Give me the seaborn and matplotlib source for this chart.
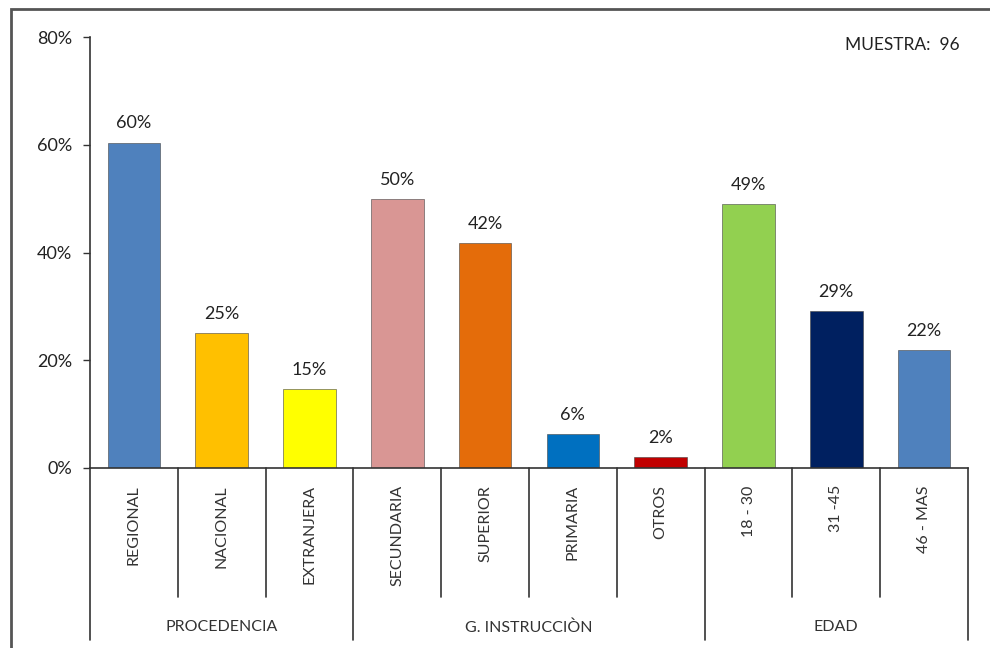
import matplotlib
matplotlib.use("Agg")
import matplotlib.pyplot as plt
from matplotlib.ticker import PercentFormatter
from matplotlib.patches import Rectangle
import pandas as pd
import seaborn as sns

# datos (muestra de 96)
categorias = ["REGIONAL", "NACIONAL", "EXTRANJERA",
              "SECUNDARIA", "SUPERIOR", "PRIMARIA", "OTROS",
              "18 - 30", "31 -45", "46 - MAS"]
porcentajes = [60.4, 25.0, 14.6, 50.0, 41.7, 6.3, 2.1, 49.0, 29.2, 21.9]
grupos = ["PROCEDENCIA", "G. INSTRUCCIÒN", "EDAD"]
tam_grupos = [3, 4, 3]
colores = ["#4F81BD", "#FFC000", "#FFFF00", "#D99694", "#E46C0A",
           "#0070C0", "#C00000", "#92D050", "#002060", "#4F81BD"]
y_ticks = [0, 20, 40, 60, 80]
muestra = 96

sns.set_theme(style="white")
plt.rcParams['font.family'] = ['Lato', 'DejaVu Sans']

df = pd.DataFrame({"cat": categorias, "pct": porcentajes})

fig = plt.figure(figsize=(9.9, 6.48), dpi=100)
ax = fig.add_axes([90 / 990, 1 - 468 / 648, 878 / 990, 431 / 648])

sns.barplot(data=df, x="cat", y="pct", hue="cat", palette=colores,
            order=categorias, hue_order=categorias, width=0.6, saturation=1,
            legend=False, ax=ax, edgecolor="#444444", linewidth=0.4)

for cont, v in zip(ax.containers, porcentajes):
    ax.bar_label(cont, labels=[f"{v:.0f}%"], padding=8, fontsize=13, color="#222222")

ax.set_xlim(-0.5, len(categorias) - 0.5)
ax.set_ylim(0, 80)
ax.set_yticks(y_ticks)
ax.yaxis.set_major_formatter(PercentFormatter(decimals=0))
ax.tick_params(axis="y", left=True, length=5, width=1, color="#333333",
               labelsize=13, labelcolor="#222222", pad=8)
ax.set_xticks([])
ax.set_xlabel("")
ax.set_ylabel("")
for s in ["top", "right"]:
    ax.spines[s].set_visible(False)
for s in ["left", "bottom"]:
    ax.spines[s].set_color("#333333")
    ax.spines[s].set_linewidth(1.2)

tr = ax.get_xaxis_transform()
# etiquetas de categoria verticales
for i, c in enumerate(categorias):
    ax.text(i, -0.04, c, transform=tr, rotation=90, ha="center", va="top",
            fontsize=11.5, color="#333333")

# separadores de categorias y grupos
limites = [-0.5]
for n in tam_grupos:
    limites.append(limites[-1] + n)
for i in range(len(categorias) + 1):
    xpos = i - 0.5
    y_fin = -0.40 if xpos in limites else -0.30
    ax.plot([xpos, xpos], [0, y_fin], transform=tr, color="#333333",
            lw=1.2, clip_on=False)

# etiquetas de grupo
for g, a, b in zip(grupos, limites[:-1], limites[1:]):
    ax.text((a + b) / 2, -0.37, g, transform=tr, ha="center", va="center",
            fontsize=11.5, color="#333333")

ax.text(0.991, 0.981, f"MUESTRA:  {muestra}", transform=ax.transAxes,
        ha="right", va="center", fontsize=12.5, color="#222222")

# marco del grafico
fig.patches.append(Rectangle((11 / 990, -0.01), 1.0, 1 - 9 / 648 + 0.01,
                             transform=fig.transFigure, fill=False,
                             edgecolor="#555555", lw=2))

fig.savefig("out.png", dpi=100, facecolor="white")
